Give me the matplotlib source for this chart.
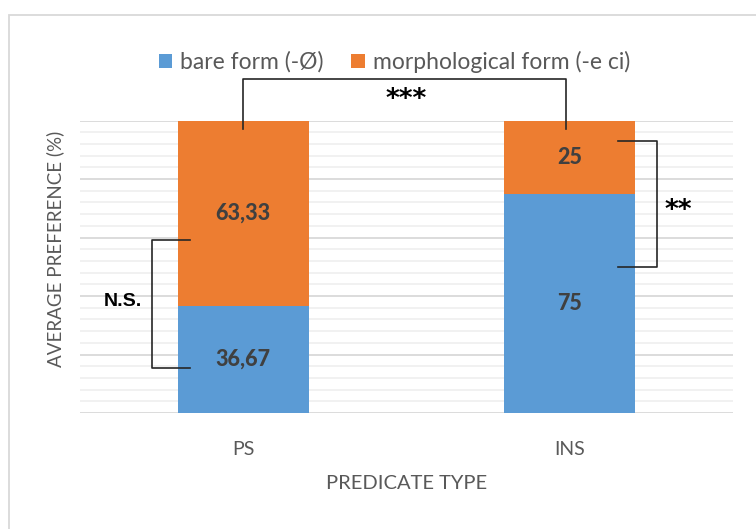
import matplotlib
matplotlib.use("Agg")
import matplotlib.pyplot as plt
import numpy as np
from matplotlib.patches import Rectangle

plt.rcParams['font.family'] = ['Lato', 'DejaVu Sans']

categories = ["PS", "INS"]
bare = [36.67, 75]
morph = [63.33, 25]
bare_labels = ["36,67", "75"]
morph_labels = ["63,33", "25"]
series_names = ["bare form (-Ø)", "morphological form (-e ci)"]

BLUE = "#5B9BD5"
ORANGE = "#ED7D31"
GREY = "#595959"

fig = plt.figure(figsize=(7.56, 5.29), dpi=100)
fig.patches.append(Rectangle((8.5/756, -0.1), 1.2, (529-14.5)/529 + 0.1,
                             transform=fig.transFigure, fill=False,
                             edgecolor="#d9d9d9", linewidth=1.3))
ax = fig.add_axes([80/756, (529-413)/529, 653/756, 292.5/529])

x = np.arange(len(categories))
w = 0.4
ax.bar(x, bare, w, color=BLUE, label=series_names[0], zorder=3)
ax.bar(x, morph, w, bottom=bare, color=ORANGE, label=series_names[1], zorder=3)

for i in range(len(categories)):
    ax.text(x[i], bare[i] / 2, bare_labels[i], ha="center", va="center",
            fontsize=15.5, fontweight="black", color="#404040", zorder=4)
    ax.text(x[i], bare[i] + morph[i] / 2, morph_labels[i], ha="center", va="center",
            fontsize=15.5, fontweight="black", color="#404040", zorder=4)

ax.set_xlim(-0.5, 1.5)
ax.set_ylim(0, 100)
ax.set_yticks(np.arange(0, 101, 20))
ax.set_yticks(np.arange(0, 101, 4), minor=True)
ax.yaxis.grid(True, which="major", color="#d9d9d9", linewidth=1.3, zorder=0)
ax.yaxis.grid(True, which="minor", color="#f0f0f0", linewidth=1.3, zorder=0)
ax.tick_params(axis="y", which="both", left=False, labelleft=False)
ax.tick_params(axis="x", bottom=False, labelsize=14, labelcolor=GREY, pad=17)
ax.set_xticks(x)
ax.set_xticklabels(categories)
for s in ax.spines.values():
    s.set_visible(False)

ax.set_xlabel("PREDICATE TYPE", fontsize=14.5, color=GREY, labelpad=12)
ax.set_ylabel("AVERAGE PREFERENCE (%)", fontsize=13.5, color=GREY, labelpad=8)
ax.yaxis.set_label_coords(-0.024, 0.56)

leg = ax.legend(loc="center", bbox_to_anchor=(0.4816, 1.2), ncol=2, frameon=False,
                fontsize=16.5, handlelength=0.6, handleheight=0.6, handletextpad=0.35,
                columnspacing=1.2, borderaxespad=0)
for t in leg.get_texts():
    t.set_color(GREY)

lc = "#262626"
# *** bracket
ax.plot([0.0, 0.0, 0.99, 0.99], [97, 114.2, 114.2, 97], color=lc, lw=1.2, clip_on=False, zorder=5)
ax.text(0.5, 107.0, "***", ha="center", va="center", fontsize=19, fontweight="bold",
        color="black", clip_on=False, family="DejaVu Sans")
# N.S. bracket
ax.plot([-0.164, -0.28, -0.28, -0.164], [59.1, 59.1, 15.4, 15.4], color=lc, lw=1.2, clip_on=False, zorder=5)
ax.text(-0.37, 38, "N.S.", ha="center", va="center", fontsize=14, fontweight="bold",
        color="black", clip_on=False, family="Liberation Sans")
# ** bracket
ax.plot([1.148, 1.268, 1.268, 1.148], [93, 93, 49.9, 49.9], color=lc, lw=1.2, clip_on=False, zorder=5)
ax.text(1.332, 69.0, "**", ha="center", va="center", fontsize=19, fontweight="bold",
        color="black", clip_on=False, family="DejaVu Sans")

fig.savefig("out.png", dpi=100)
